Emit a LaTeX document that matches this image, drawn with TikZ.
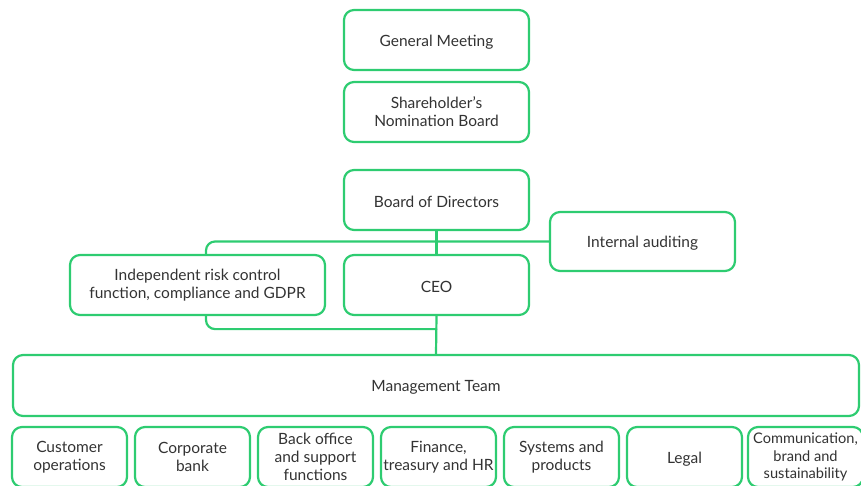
\documentclass[tikz,border=0pt]{standalone}
\usepackage{fontspec}
\setmainfont{Lato}
\definecolor{boxgreen}{RGB}{46,204,113}
\definecolor{boxtext}{RGB}{51,51,51}
\tikzset{
  every picture/.style={line join=round, line cap=round},
  unit/.style={draw=boxgreen, line width=2.2pt, rounded corners=10pt, fill=white,
    text=boxtext, align=center, inner sep=1pt,
    font=\fontsize{15.5}{18}\selectfont,
    execute at begin node={\rule{0pt}{15pt}}},
  wide/.style={unit, minimum width=185pt, minimum height=60pt},
  dept/.style={unit, minimum width=115pt, minimum height=60pt},
  link/.style={draw=boxgreen, line width=2.2pt},
}

\begin{document}
\begin{tikzpicture}[x=1pt,y=-1pt]
\clip (0,0) rectangle (861,485);
% governing bodies
\node[wide] (gm) at (436.5,40) {General Meeting};
\node[wide] (snb) at (436.5,112) {Shareholder’s\\Nomination Board};
\node[wide] (bod) at (436.5,200) {Board of Directors};
\node[wide,minimum height=59pt] (audit) at (642.5,241.5) {Internal auditing};
\node[unit,minimum width=255pt,minimum height=60pt] (risk) at (197.5,285)
  {Independent risk control\\function, compliance and GDPR};
\node[wide] (ceo) at (436.5,285) {CEO};
\node[unit,minimum width=846pt,minimum height=61pt] (mgmt) at (436,385.5) {Management Team};
% departments
\node[dept] (cust) at (69.5,457) {Customer\\operations};
\node[dept] (corp) at (192.5,457) {Corporate\\bank};
\node[dept] (back) at (315.5,457) {Back office\\and support\\functions};
\node[dept] (fin) at (438.5,457) {Finance,\\treasury and HR};
\node[dept] (sys) at (561.5,457) {Systems and\\products};
\node[dept] (legal) at (684.5,457) {Legal};
\node[dept,font=\fontsize{14.6}{17.5}\selectfont] (comm) at (805.5,457)
  {Communication,\\brand and\\sustainability};
% connectors
\draw[link] (bod.south)--(ceo.north);
\draw[link,rounded corners=9pt] (audit.west)-|([xshift=8.5pt]risk.north);
\draw[link] (ceo.south)--(mgmt.north);
\draw[link,rounded corners=9pt] ([xshift=8.5pt]risk.south)|-([yshift=-13pt]ceo.south);
\end{tikzpicture}
\end{document}
